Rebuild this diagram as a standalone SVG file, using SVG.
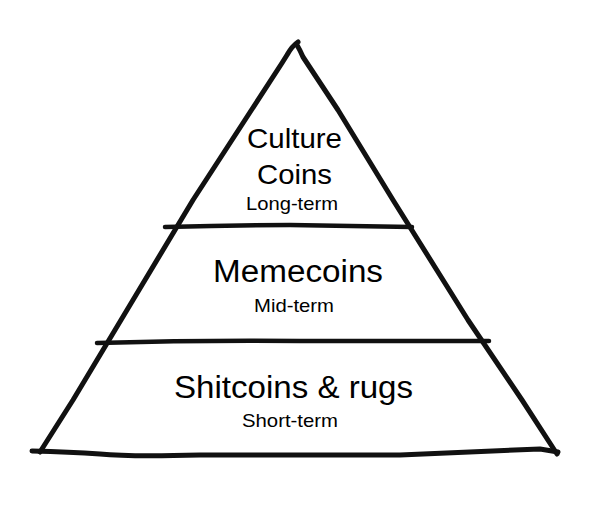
<svg xmlns="http://www.w3.org/2000/svg" width="594" height="515" viewBox="0 0 594 515">
<style>
.ink{fill:none;stroke:#111;stroke-linecap:round;stroke-linejoin:round}
.side{stroke-width:5}
.rule{stroke-width:4.5}
.t{font-family:"Liberation Sans",Arial,Helvetica,sans-serif;fill:#000}
.big{font-size:31px}
.mid{font-size:28px}
.small{font-size:18.5px}
</style>
<rect width="594" height="515" fill="#fff"/>
<g id="connectors">
<path class="ink side" d="M298,42 Q292,46 287,55 L282,63 L193,200 L130,305 L73,400 L40,452"/>
<path class="ink side" d="M297,45 Q300,50 303,57 L338,110 L393,200 L468,320 L522,400 L557,454"/>
<path class="ink side" d="M32,451 Q70,452 100,454 Q130,457 200,455 Q300,455 400,455 Q470,452 540,449 L558,452"/>
<path class="ink rule" d="M165,227 Q230,225 290,225 Q360,226 412,227"/>
<path class="ink rule" d="M97,343 Q200,340 300,341 Q400,341 489,341"/>
</g>
<g id="tier-top">
<text class="t mid" x="247" y="148" textLength="95" lengthAdjust="spacingAndGlyphs">Culture</text>
<text class="t mid" x="257" y="183.5" textLength="75" lengthAdjust="spacingAndGlyphs">Coins</text>
<text class="t small" x="246" y="210" textLength="92" lengthAdjust="spacingAndGlyphs">Long-term</text>
</g>
<g id="tier-middle">
<text class="t big" x="213" y="281.5" textLength="170" lengthAdjust="spacingAndGlyphs">Memecoins</text>
<text class="t small" x="254" y="311.5" textLength="80" lengthAdjust="spacingAndGlyphs">Mid-term</text>
</g>
<g id="tier-bottom">
<text class="t big" x="174" y="397.5" textLength="239" lengthAdjust="spacingAndGlyphs">Shitcoins &amp; rugs</text>
<text class="t small" x="242" y="427" textLength="96" lengthAdjust="spacingAndGlyphs">Short-term</text>
</g>
</svg>
